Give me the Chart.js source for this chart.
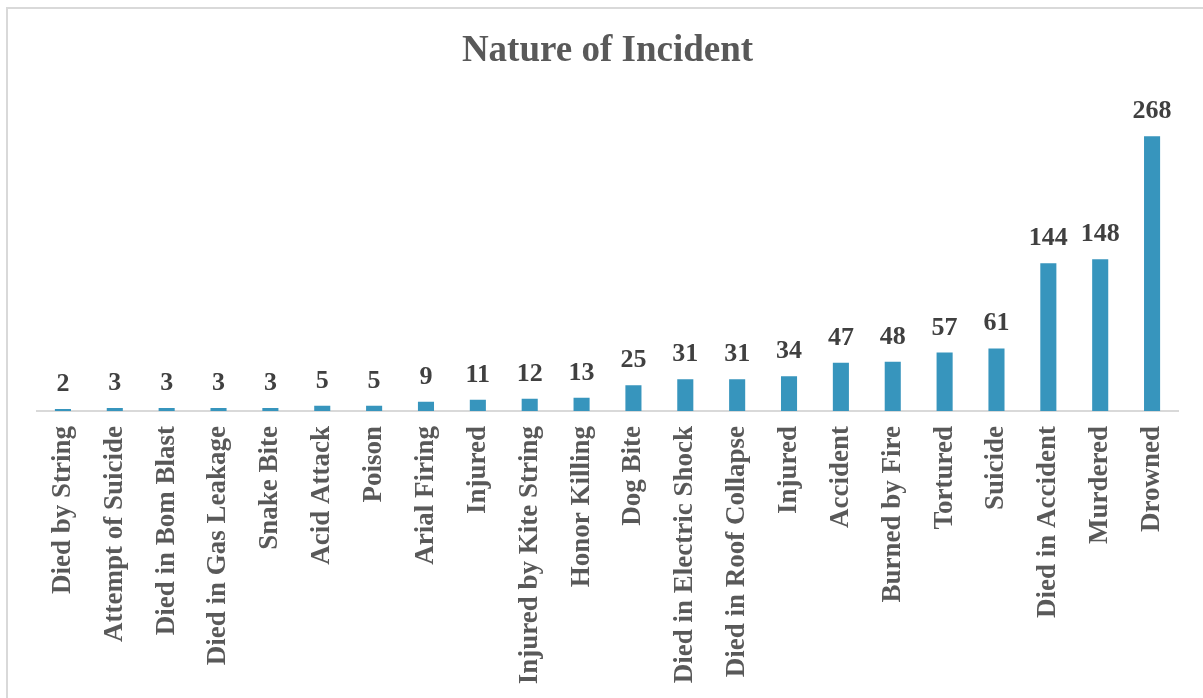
<!DOCTYPE html>
<html>
<head>
<meta charset="utf-8">
<script src="https://cdn.jsdelivr.net/npm/chart.js@4"></script>
<style>
  html, body { margin: 0; padding: 0; background: #ffffff; }
  #wrap { position: relative; width: 1203px; height: 698px; overflow: hidden; }
  #frame { position: absolute; left: 6px; top: 7px; width: 1210px; height: 700px;
           border-top: 2px solid #d9d9d9; border-left: 2px solid #d9d9d9; box-sizing: border-box; }
  canvas { position: absolute; left: 0; top: 0; }
</style>
</head>
<body>
<div id="wrap">
  <div id="frame"></div>
  <canvas id="c" width="1203" height="698"></canvas>
</div>
<script>
const categories = [
  "Died by String", "Attempt of Suicide", "Died in Bom Blast", "Died in Gas Leakage",
  "Snake Bite", "Acid Attack", "Poison", "Arial Firing", "Injured",
  "Injured by Kite String", "Honor Killing", "Dog Bite", "Died in Electric Shock",
  "Died in Roof Collapse", "Injured", "Accident", "Burned by Fire", "Tortured",
  "Suicide", "Died in Accident", "Murdered", "Drowned"
];
const values = [2, 3, 3, 3, 3, 5, 5, 9, 11, 12, 13, 25, 31, 31, 34, 47, 48, 57, 61, 144, 148, 268];
const chartTitle = "Nature of Incident";

const valueLabels = {
  id: 'valueLabels',
  afterDatasetsDraw(chart) {
    const ctx = chart.ctx;
    const meta = chart.getDatasetMeta(0);
    ctx.save();
    ctx.font = 'bold 26px "Liberation Serif", "Times New Roman", serif';
    ctx.fillStyle = '#404040';
    ctx.textAlign = 'center';
    ctx.textBaseline = 'alphabetic';
    meta.data.forEach((bar, i) => {
      ctx.fillText(String(chart.data.datasets[0].data[i]), bar.x, bar.y - 18);
    });
    ctx.restore();
  }
};

new Chart(document.getElementById('c'), {
  type: 'bar',
  data: {
    labels: categories,
    datasets: [{
      data: values,
      backgroundColor: '#3795BD',
      borderWidth: 0,
      categoryPercentage: 1,
      barPercentage: 0.31
    }]
  },
  options: {
    responsive: false,
    animation: false,
    layout: { padding: { left: 37, right: 25, top: 0, bottom: 0 } },
    plugins: {
      legend: { display: false },
      tooltip: { enabled: false },
      title: {
        display: true,
        text: chartTitle,
        color: '#595959',
        font: { family: '"Liberation Serif", "Times New Roman", serif', size: 37, weight: 'bold' },
        padding: { top: 29, bottom: 30 }
      }
    },
    scales: {
      x: {
        grid: { display: false, drawTicks: false },
        border: { display: true, color: '#d9d9d9', width: 2 },
        ticks: {
          color: '#595959',
          font: { family: '"Liberation Serif", "Times New Roman", serif', size: 27, weight: 'bold' },
          minRotation: 90, maxRotation: 90,
          autoSkip: false,
          padding: 15
        },
        afterFit(scale) { scale.height = 287; }
      },
      y: {
        display: false,
        min: 0,
        max: 300
      }
    }
  },
  plugins: [valueLabels]
});
</script>
</body>
</html>
